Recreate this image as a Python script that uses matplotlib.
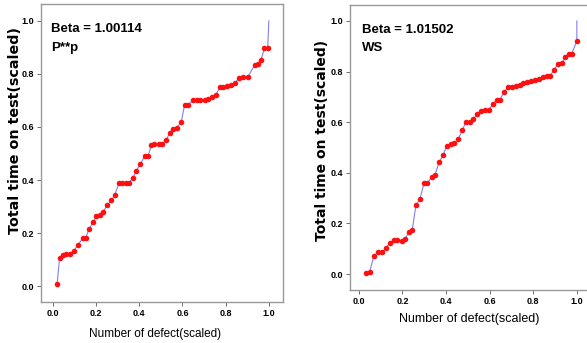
import matplotlib
matplotlib.use("Agg")
import matplotlib.pyplot as plt

# P**p panel
x_pp = [0.019, 0.03, 0.046, 0.062, 0.077, 0.096, 0.116, 0.139, 0.151, 0.167,
        0.185, 0.2, 0.216, 0.231, 0.25, 0.27, 0.285, 0.306, 0.321, 0.336,
        0.352, 0.37, 0.386, 0.404, 0.424, 0.44, 0.455, 0.47, 0.49, 0.506,
        0.525, 0.54, 0.556, 0.574, 0.594, 0.61, 0.625, 0.648, 0.667, 0.682,
        0.702, 0.718, 0.736, 0.753, 0.775, 0.79, 0.806, 0.826, 0.844, 0.864,
        0.88, 0.903, 0.934, 0.949, 0.964, 0.98, 0.995]
y_pp = [0.009, 0.105, 0.116, 0.12, 0.122, 0.132, 0.156, 0.182, 0.182, 0.215,
        0.241, 0.263, 0.269, 0.278, 0.304, 0.323, 0.342, 0.389, 0.389, 0.389,
        0.389, 0.408, 0.434, 0.459, 0.489, 0.489, 0.531, 0.535, 0.535, 0.535,
        0.55, 0.577, 0.594, 0.597, 0.619, 0.684, 0.684, 0.7, 0.7, 0.7,
        0.7, 0.705, 0.713, 0.72, 0.751, 0.751, 0.753, 0.757, 0.767, 0.786,
        0.789, 0.789, 0.833, 0.836, 0.854, 0.896, 0.896]

# WS panel
x_ws = [0.035, 0.05, 0.069, 0.089, 0.107, 0.124, 0.142, 0.161, 0.176, 0.196,
        0.211, 0.23, 0.245, 0.262, 0.28, 0.299, 0.315, 0.334, 0.349, 0.369,
        0.387, 0.403, 0.421, 0.438, 0.456, 0.475, 0.49, 0.51, 0.525, 0.544,
        0.56, 0.579, 0.597, 0.614, 0.632, 0.648, 0.666, 0.685, 0.701, 0.72,
        0.737, 0.755, 0.773, 0.79, 0.809, 0.827, 0.847, 0.862, 0.877, 0.896,
        0.913, 0.931, 0.946, 0.962, 0.977, 1.0]
y_ws = [0.003, 0.009, 0.071, 0.088, 0.086, 0.101, 0.124, 0.134, 0.134, 0.132,
        0.137, 0.167, 0.174, 0.272, 0.296, 0.358, 0.358, 0.384, 0.391, 0.443,
        0.47, 0.507, 0.513, 0.518, 0.533, 0.568, 0.599, 0.601, 0.612, 0.632,
        0.643, 0.647, 0.65, 0.67, 0.687, 0.689, 0.72, 0.737, 0.737, 0.742,
        0.746, 0.753, 0.757, 0.762, 0.766, 0.77, 0.779, 0.782, 0.782, 0.808,
        0.829, 0.832, 0.858, 0.871, 0.871, 0.921]

ticks = [0.0, 0.2, 0.4, 0.6, 0.8, 1.0]

panels = [
    dict(x=x_pp, y=y_pp, text="Beta = 1.00114\nP**p",
         rect=[0.0698, 0.1195, 0.412, 0.869], xlim=(-0.056, 1.065), ylim=(-0.06, 1.064),
         txt_xy=(0.041, 0.935), ylab_xy=(-0.08, 0.577), ylab_fs=10.3,
         xlab_xy=(0.471, -0.088), xlab_fs=8.5),
    dict(x=x_ws, y=y_ws, text="Beta = 1.01502\nWS",
         rect=[0.596, 0.1545, 0.409, 0.831], xlim=(-0.041, 1.06), ylim=(-0.063, 1.063),
         txt_xy=(0.05, 0.935), ylab_xy=(-0.088, 0.526), ylab_fs=10,
         xlab_xy=(0.496, -0.082), xlab_fs=9),
]

fig = plt.figure(figsize=(5.87, 3.43), dpi=100)
narrow = ['Liberation Sans', 'DejaVu Sans']

for p in panels:
    ax = fig.add_axes(p["rect"])
    ax.plot(p["x"] + [1.0], p["y"] + [1.0], color='#8080f0', lw=0.8, zorder=1)
    ax.plot(p["x"], p["y"], 'o', color='#ff1010', markersize=4,
            markeredgewidth=0, zorder=2)
    ax.set_xlim(*p["xlim"])
    ax.set_ylim(*p["ylim"])
    ax.set_xticks(ticks)
    ax.set_yticks(ticks)
    ax.set_xticklabels([f"{t:.1f}" for t in ticks], family=narrow, fontsize=6.5,
                       fontweight='bold')
    ax.set_yticklabels([f"{t:.1f}" for t in ticks], family=narrow, fontsize=6.5,
                       fontweight='bold')
    ax.tick_params(length=3, width=0.6, color='#555555', pad=2)
    for s in ax.spines.values():
        s.set_color('#999999')
        s.set_linewidth(1.0)
    ax.set_xlabel("Number of defect(scaled)", family=narrow, fontsize=p["xlab_fs"])
    ax.xaxis.set_label_coords(*p["xlab_xy"])
    ax.set_ylabel("Total time on test(scaled)", fontsize=p["ylab_fs"], fontweight='bold')
    ax.yaxis.set_label_coords(*p["ylab_xy"])
    ax.text(p["txt_xy"][0], p["txt_xy"][1], p["text"], transform=ax.transAxes,
            va='top', ha='left', family=narrow, fontsize=9.5, fontweight='bold',
            linespacing=1.7)

fig.savefig("out.png", dpi=100)
